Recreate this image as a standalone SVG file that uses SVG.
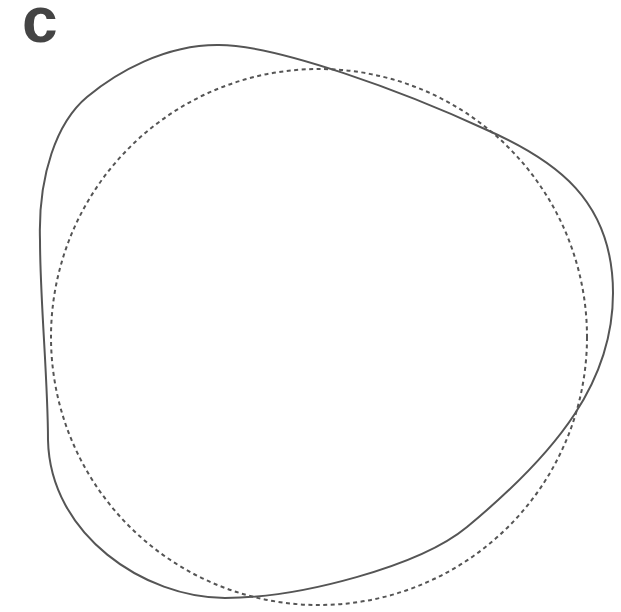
<svg xmlns="http://www.w3.org/2000/svg" width="621" height="612" viewBox="0 0 621 612">
  <style>
    .solid { fill: none; stroke: #555; stroke-width: 2; }
    .dashed { fill: none; stroke: #555; stroke-width: 2; stroke-dasharray: 4 3.5; }
    .label { font-family: "Liberation Sans", Arial, sans-serif; font-weight: bold; font-size: 64px; fill: #444; }
  </style>
  <rect width="621" height="612" fill="#fff"/>
  <text class="label" x="22" y="42">c</text>
  <g id="circle">
    <circle class="dashed" cx="319" cy="337" r="268"/>
  </g>
  <g id="blob">
    <path class="solid" d="M217,45 C275,44 405,92 487,130 C555,160 613,200 613,293 C613,380 560,450 467,527 C420,566 300,598 225,598 C145,598 50,535 48,440 C48,380 40,300 40,240 C38,175 57,122 87,97 C117,72 165,45 217,45 Z"/>
  </g>
</svg>
